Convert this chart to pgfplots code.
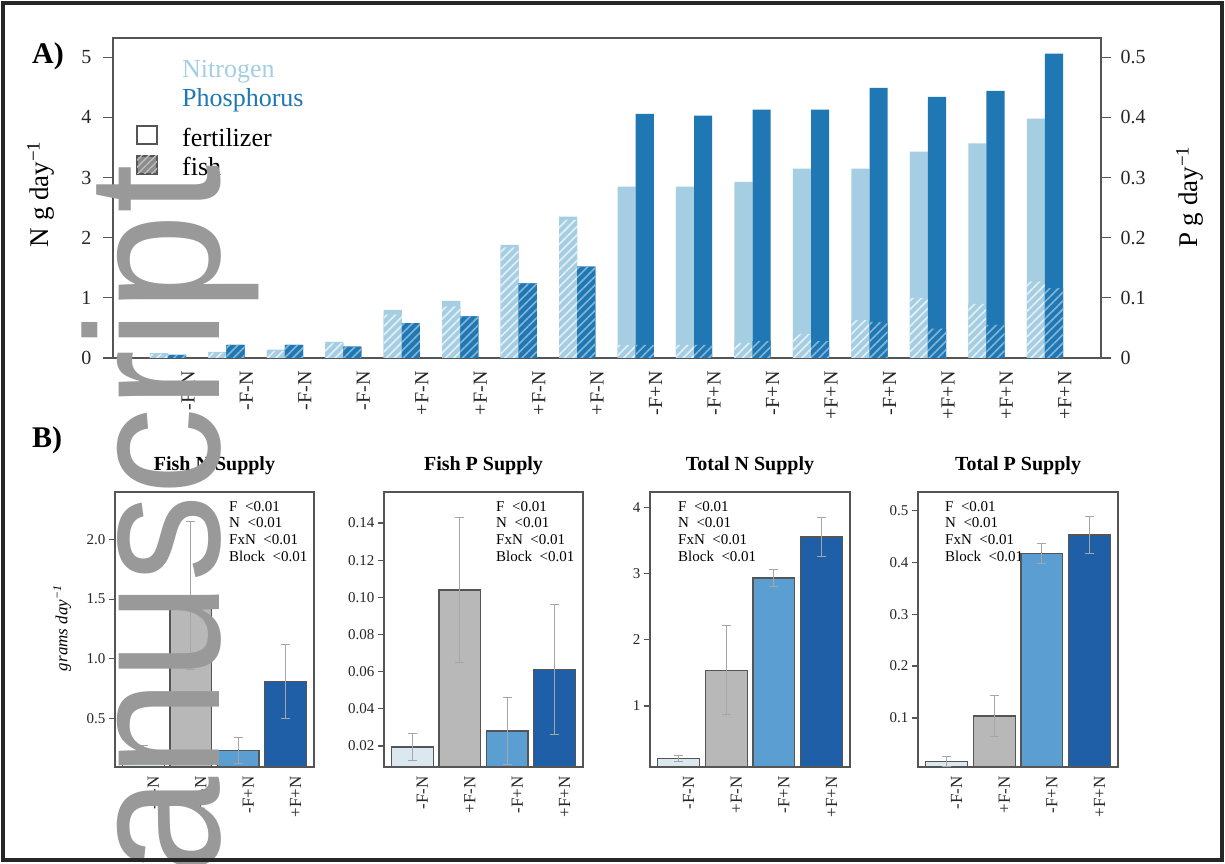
\documentclass[border=0pt]{standalone}
\usepackage{fontspec}
\setmainfont{Liberation Serif}
\newfontfamily\wmfont{Liberation Sans}
\usepackage{pgfplots}
\pgfplotsset{compat=1.18}
\usetikzlibrary{patterns.meta}

\definecolor{cN}{HTML}{A6CEE3}
\definecolor{cP}{HTML}{1F78B4}
\definecolor{bA}{HTML}{DCE8F0}
\definecolor{bB}{HTML}{B8B8B8}
\definecolor{bC}{HTML}{5B9FD2}
\definecolor{bD}{HTML}{1F5FA8}
\definecolor{axc}{HTML}{555555}

\newcommand{\fs}[1]{\fontsize{#1}{#1}\selectfont}

\pgfplotsset{
  common/.style={
    scale only axis,
    axis line style={axc, line width=1.2pt},
    every tick/.style={axc, line width=1.2pt},
    tick align=outside,
    scaled ticks=false,
    /pgf/number format/assume math mode=true,
    tick label style={black!85},
  },
  hatchN/.style={fill=cN, draw=none, postaction={pattern={Lines[angle=45,distance=6pt,line width=1.6pt]}, pattern color=white!70!cN}},
  hatchP/.style={fill=cP, draw=none, postaction={pattern={Lines[angle=45,distance=6pt,line width=1.6pt]}, pattern color=white!45!cP}},
  bstyle/.style={common, width=200pt, height=275pt, xmin=-0.6, xmax=3.6,
    xtick={0,1,2,3}, xticklabels={-F-N,+F-N,-F+N,+F+N}, xtick style={draw=none},
    xticklabel style={rotate=90, anchor=east, font=\fs{17}, yshift=-10pt},
    ytick pos=left,
    yticklabel style={font=\fs{15}}, major tick length=6pt,
    title style={font=\bfseries\fs{20}, at={(0.5,1.073)}, anchor=center}},
  bbar/.style={ybar, bar width=0.88, bar shift=0, draw=axc, line width=1.3pt, fill=#1,
    error bars/.cd, y dir=both, y explicit,
    error bar style={black!35, line width=1pt},
    error mark options={black!35, rotate=90, mark size=4.5pt, line width=1pt}},
}

\begin{document}
\begin{tikzpicture}[x=1pt,y=1pt]
\path[use as bounding box] (0,0) rectangle (1225,863);
\fill[white] (0,0) rectangle (1225,863);

% ---------------- Panel A: nitrogen (left axis) ----------------
\begin{axis}[common, at={(113pt,505pt)}, anchor=south west, width=988pt, height=320pt,
  xmin=-0.94, xmax=15.96, ymin=0, ymax=5.32,
  xtick={0,...,15},
  xticklabels={-F-N,-F-N,-F-N,-F-N,+F-N,+F-N,+F-N,+F-N,-F+N,-F+N,-F+N,+F+N,-F+N,+F+N,+F+N,+F+N},
  xtick style={draw=none},
  xticklabel style={rotate=90, anchor=east, font=\fs{20}, yshift=-20pt},
  ytick={0,1,2,3,4,5}, ytick pos=left,
  yticklabel style={font=\fs{20}, xshift=-8pt},
  major tick length=10pt,
  every axis y label/.style={at={(axis description cs:-0.073,0.512)}, rotate=90, anchor=center, font=\fs{27}},
  ylabel={N g day\textsuperscript{−1}}]
% total N (fertilizer + fish)
\addplot[ybar, bar width=0.31, bar shift=-0.155, fill=cN, draw=none] coordinates {
 (0,0.08) (1,0.10) (2,0.14) (3,0.27) (4,0.80) (5,0.95) (6,1.88) (7,2.35)
 (8,2.85) (9,2.85) (10,2.93) (11,3.15) (12,3.15) (13,3.43) (14,3.57) (15,3.98)};
% fish N
\addplot[ybar, bar width=0.31, bar shift=-0.155, hatchN] coordinates {
 (0,0.07) (1,0.09) (2,0.12) (3,0.25) (4,0.72) (5,0.86) (6,1.84) (7,2.30)
 (8,0.22) (9,0.22) (10,0.25) (11,0.40) (12,0.63) (13,1.00) (14,0.90) (15,1.27)};
\end{axis}

% ---------------- Panel A: phosphorus (right axis) ----------------
\begin{axis}[common, at={(113pt,505pt)}, anchor=south west, width=988pt, height=320pt,
  xmin=-0.94, xmax=15.96, ymin=0, ymax=0.532,
  hide x axis, axis y line*=right,
  ytick={0,0.1,0.2,0.3,0.4,0.5},
  yticklabel style={font=\fs{20}, xshift=6pt},
  major tick length=10pt,
  every axis y label/.style={at={(axis description cs:1.09,0.503)}, rotate=90, anchor=center, font=\fs{27}},
  ylabel={P g day\textsuperscript{−1}}]
\addplot[ybar, bar width=0.31, bar shift=0.155, fill=cP, draw=none] coordinates {
 (0,0.005) (1,0.022) (2,0.022) (3,0.019) (4,0.058) (5,0.069) (6,0.124) (7,0.152)
 (8,0.406) (9,0.403) (10,0.413) (11,0.413) (12,0.449) (13,0.434) (14,0.444) (15,0.506)};
\addplot[ybar, bar width=0.31, bar shift=0.155, hatchP] coordinates {
 (0,0.005) (1,0.022) (2,0.022) (3,0.019) (4,0.058) (5,0.069) (6,0.124) (7,0.152)
 (8,0.022) (9,0.022) (10,0.028) (11,0.028) (12,0.060) (13,0.049) (14,0.055) (15,0.116)};
\end{axis}

% legend of panel A
\node[anchor=west, inner sep=0pt, text=cN, font=\fs{26}] at (182,791) {Nitrogen};
\node[anchor=west, inner sep=0pt, text=cP, font=\fs{26}] at (182,763) {Phosphorus};
\draw[axc, line width=1.2pt, fill=white] (137,719) rectangle (157,737);
\node[anchor=west, inner sep=0pt, font=\fs{26}] at (182,726) {fertilizer};
\draw[axc, line width=1.2pt, fill=black!45, postaction={pattern={Lines[angle=45,distance=5pt,line width=1.3pt]}, pattern color=black!25}] (137,689) rectangle (157,707);
\node[anchor=west, inner sep=0pt, font=\fs{26}] at (182,697) {fish};

\node[font=\bfseries\fs{30}, inner sep=0pt] at (48,807) {A)};
\node[font=\bfseries\fs{30}, inner sep=0pt] at (47,423) {B)};

% ---------------- Panel B ----------------
\begin{axis}[bstyle, at={(115pt,96pt)}, anchor=south west, width=199pt,
  ymin=0.09, ymax=2.40, ytick={0.5,1.0,1.5,2.0},
  yticklabel style={/pgf/number format/.cd, fixed, fixed zerofill, precision=1},
  title={Fish N Supply},
  every axis y label/.style={at={(axis description cs:-0.266,0.505)}, rotate=90, anchor=center, font=\itshape\fs{17}},
  ylabel={grams day\textsuperscript{−1}}]
\addplot[bbar=bA] coordinates {(0,0.20) +- (0,0.07)};
\addplot[bbar=bB] coordinates {(1,1.53) +- (0,0.62)};
\addplot[bbar=bC] coordinates {(2,0.23) +- (0,0.11)};
\addplot[bbar=bD] coordinates {(3,0.81) +- (0,0.31)};
\node[anchor=north west, align=left, inner sep=0pt, font=\fontsize{15}{16.7}\selectfont] at (rel axis cs:0.573,0.967) {F \ <0.01\\N \ <0.01\\FxN \ <0.01\\Block \ <0.01};
\end{axis}

\begin{axis}[bstyle, at={(384pt,96pt)}, anchor=south west, width=199pt,
  ymin=0.0087, ymax=0.1567, ytick={0.02,0.04,0.06,0.08,0.10,0.12,0.14},
  yticklabel style={/pgf/number format/.cd, fixed, fixed zerofill, precision=2},
  title={Fish P Supply}]
\addplot[bbar=bA] coordinates {(0,0.0195) +- (0,0.0075)};
\addplot[bbar=bB] coordinates {(1,0.104) +- (0,0.039)};
\addplot[bbar=bC] coordinates {(2,0.028) +- (0,0.018)};
\addplot[bbar=bD] coordinates {(3,0.061) +- (0,0.035)};
\node[anchor=north west, align=left, inner sep=0pt, font=\fontsize{15}{16.7}\selectfont] at (rel axis cs:0.563,0.967) {F \ <0.01\\N \ <0.01\\FxN \ <0.01\\Block \ <0.01};
\end{axis}

\begin{axis}[bstyle, at={(650pt,96pt)}, anchor=south west, width=200pt,
  ymin=0.08, ymax=4.23, ytick={1,2,3,4},
  title={Total N Supply}]
\addplot[bbar=bA] coordinates {(0,0.21) +- (0,0.05)};
\addplot[bbar=bB] coordinates {(1,1.54) +- (0,0.67)};
\addplot[bbar=bC] coordinates {(2,2.93) +- (0,0.13)};
\addplot[bbar=bD] coordinates {(3,3.55) +- (0,0.30)};
\node[anchor=north west, align=left, inner sep=0pt, font=\fontsize{15}{16.7}\selectfont] at (rel axis cs:0.14,0.967) {F \ <0.01\\N \ <0.01\\FxN \ <0.01\\Block \ <0.01};
\end{axis}

\begin{axis}[bstyle, at={(918pt,96pt)}, anchor=south west, width=200pt,
  ymin=0.0058, ymax=0.535, ytick={0.1,0.2,0.3,0.4,0.5},
  yticklabel style={/pgf/number format/.cd, fixed, fixed zerofill, precision=1},
  title={Total P Supply}]
\node[anchor=north west, align=left, inner sep=0pt, font=\fontsize{15}{16.7}\selectfont] at (rel axis cs:0.135,0.967) {F \ <0.01\\N \ <0.01\\FxN \ <0.01\\Block \ <0.01};
\addplot[bbar=bA] coordinates {(0,0.0165) +- (0,0.0095)};
\addplot[bbar=bB] coordinates {(1,0.104) +- (0,0.040)};
\addplot[bbar=bC] coordinates {(2,0.417) +- (0,0.019)};
\addplot[bbar=bD] coordinates {(3,0.452) +- (0,0.035)};
\end{axis}

% watermark
\begin{scope}
\clip (0,0) rectangle (1225,863);
\node[rotate=90, anchor=base east, inner sep=0pt, text=black!40, font=\wmfont\fs{190}] at (219,698) {\scalebox{0.92}[1]{anuscript}};
\end{scope}

% outer frame
\draw[line width=4pt, black!85] (3,3) rectangle (1222,860);
\end{tikzpicture}
\end{document}
